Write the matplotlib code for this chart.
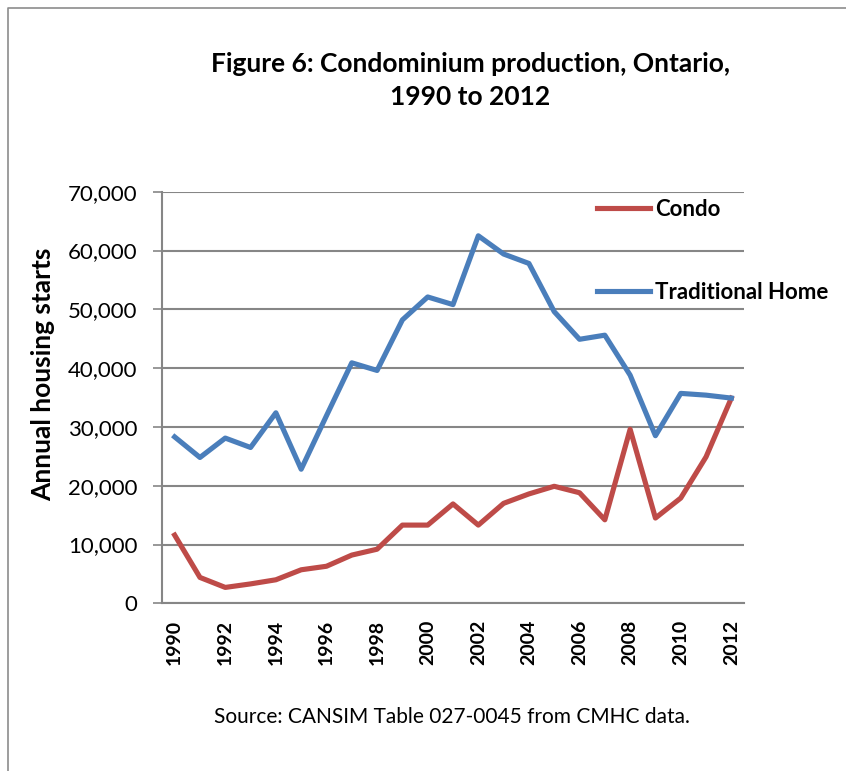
import matplotlib.pyplot as plt
from matplotlib.lines import Line2D

# Данные: ежегодные начала строительства жилья, Онтарио
years = list(range(1990, 2013))
condo = [11600, 4400, 2700, 3300, 4000, 5700, 6300, 8200, 9200, 13300, 13300, 16900,
         13300, 17000, 18600, 19900, 18800, 14200, 29600, 14500, 17900, 24900, 34900]
traditional = [28300, 24800, 28100, 26500, 32400, 22800, 31900, 40900, 39600, 48200, 52100, 50800,
               62500, 59400, 57800, 49600, 44900, 45600, 38800, 28500, 35700, 35400, 34900]
year_labels = [str(y) for y in years[::2]]
y_ticks = list(range(0, 70001, 10000))

plt.rcParams['font.family'] = ['Lato', 'DejaVu Sans']

W, H = 846, 771
fig = plt.figure(figsize=(W / 100, H / 100), dpi=100)

# рамка: видны только левая и верхняя линии
fig.add_artist(Line2D([8 / W, 8 / W, 1], [0, 1 - 8 / H, 1 - 8 / H], transform=fig.transFigure,
                      color='#8c8c8c', linewidth=1.2))

ax = fig.add_axes([162 / W, 1 - 603.3 / H, (744 - 162) / W, (603.3 - 191.7) / H])
ax.plot(years, condo, color='#BE4B48', linewidth=3.7, label='Condo', solid_joinstyle='round')
ax.plot(years, traditional, color='#4A7EBB', linewidth=3.7, label='Traditional Home', solid_joinstyle='round')

ax.set_xlim(1989.5, 2012.5)
ax.set_ylim(0, 70000)
ax.set_yticks(y_ticks)
ax.set_yticklabels([f'{v:,}' for v in y_ticks], fontsize=16)
ax.set_xticks(years[::2])
ax.set_xticklabels(year_labels, rotation=90, fontsize=14, fontweight='bold')
ax.tick_params(axis='x', length=0, pad=12)
ax.tick_params(axis='y', length=6.5, width=1.2, color='#868686', pad=11)
ax.grid(axis='y', color='#868686', linewidth=1.5)
ax.set_axisbelow(True)
for side in ['top', 'right']:
    ax.spines[side].set_visible(False)
for side in ['left', 'bottom']:
    ax.spines[side].set_color('#868686')
    ax.spines[side].set_linewidth(1.5)

fig.text(43 / W, 1 - 374.5 / H, 'Annual housing starts', rotation=90, ha='center', va='center',
         fontsize=19, fontweight='bold')

ax.legend(loc='upper left', bbox_to_anchor=(588 / W, 1 - 190 / H), bbox_transform=fig.transFigure,
          frameon=False, prop={'weight': 'bold', 'size': 16}, handlelength=2.4,
          handletextpad=0.2, labelspacing=2.8, borderaxespad=0)

fig.text(470 / W, 1 - 64 / H, 'Figure 6: Condominium production, Ontario,', ha='center', va='center',
         fontsize=19, fontweight='bold')
fig.text(470 / W, 1 - 97 / H, '1990 to 2012', ha='center', va='center', fontsize=19, fontweight='bold')
fig.text(452 / W, 1 - 717 / H, 'Source: CANSIM Table 027-0045 from CMHC data.', ha='center', va='center',
         fontsize=15)

plt.savefig('out.png', dpi=100)
plt.close()
